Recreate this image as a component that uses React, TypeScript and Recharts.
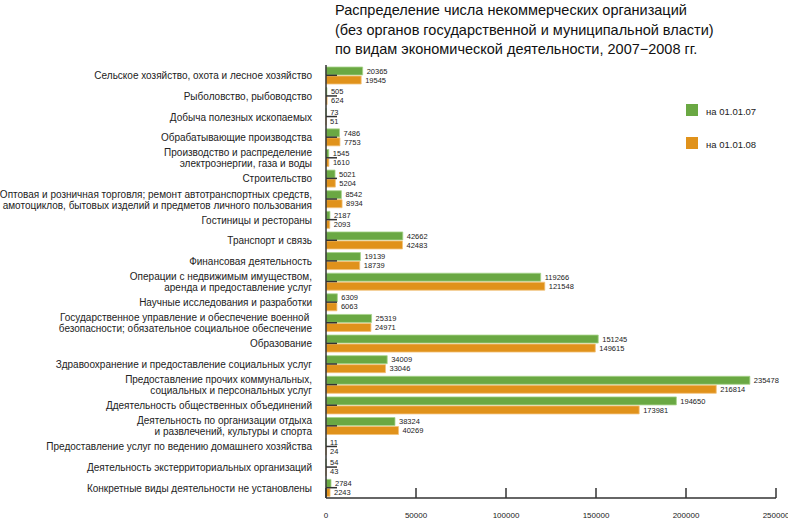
import React from 'react';
import { BarChart, Bar, XAxis, YAxis, LabelList } from 'recharts';

const categories = [
  'Сельское хозяйство, охота и лесное хозяйство',
  'Рыболовство, рыбоводство',
  'Добыча полезных ископаемых',
  'Обрабатывающие производства',
  'Производство и распределение\nэлектроэнергии, газа и воды',
  'Строительство',
  'Оптовая и розничная торговля; ремонт автотранспортных средств,\nамотоциклов, бытовых изделий и предметов личного пользования',
  'Гостиницы и рестораны',
  'Транспорт и связь',
  'Финансовая деятельность',
  'Операции с недвижимым имуществом,\nаренда и предоставление услуг',
  'Научные исследования и разработки',
  'Государственное управление и обеспечение военной \nбезопасности; обязательное социальное обеспечение',
  'Образование',
  'Здравоохранение и предоставление социальных услуг',
  'Предоставление прочих коммунальных,\nсоциальных и персональных услуг',
  'Ддеятельность общественных объединений',
  'Деятельность по организации отдыха\nи развлечений, культуры и спорта',
  'Предоставление услуг по ведению домашнего хозяйства',
  'Деятельность экстерриториальных организаций',
  'Конкретные виды деятельности не установлены',
];

const values2007 = [20365, 505, 73, 7486, 1545, 5021, 8542, 2187, 42662, 19139, 119266, 6309, 25319, 151245, 34009, 235478, 194650, 38324, 11, 54, 2784];
const values2008 = [19545, 624, 51, 7753, 1610, 5204, 8934, 2093, 42483, 18739, 121548, 6063, 24971, 149615, 33046, 216814, 173981, 40269, 24, 43, 2243];

const xTicks = [0, 50000, 100000, 150000, 200000, 250000];
const seriesNames = ['на 01.01.07', 'на 01.01.08'];
const titleLines = [
  'Распределение числа некоммерческих организаций',
  '(без органов государственной и муниципальной власти)',
  'по видам экономической деятельности, 2007−2008 гг.',
];

const data = categories.map((name, i) => ({ name, y07: values2007[i], y08: values2008[i] }));

const FONT = '"Liberation Sans", Arial, sans-serif';
const GREEN = '#6aa843';
const ORANGE = '#e0921b';
const INK = '#222';

const CategoryTick = ({ x, y, payload }: any) => {
  const lines = String(payload.value).split('\n');
  const top = y - (lines.length - 1) * 5.5;
  return (
    <g>
      <line x1={x} y1={y} x2={x + 11} y2={y} stroke="#333" strokeWidth={1.5} />
      <text textAnchor="end" fontSize={10} fontFamily={FONT} fill={INK} dominantBaseline="central">
        {lines.map((l, i) => (
          <tspan key={i} x={x - 14} y={top + i * 11}>{l}</tspan>
        ))}
      </text>
    </g>
  );
};

const ValueTick = ({ x, y, payload }: any) => (
  <g>
    <line x1={x} y1={y} x2={x} y2={y - 10} stroke="#333" strokeWidth={1.5} />
    <text x={x} y={y + 20} textAnchor="middle" fontSize={8} fontFamily={FONT} fill={INK}>{payload.value}</text>
  </g>
);

export default function App() {
  return (
    <div style={{ position: 'relative', width: 788, height: 521, background: '#fff' }}>
      <style>{`body{margin:0}`}</style>
      <BarChart
        width={788}
        height={521}
        data={data}
        layout="vertical"
        margin={{ top: 65, right: 12, left: 0, bottom: 0 }}
        barSize={8}
        barGap={1}
      >
        <XAxis
          type="number"
          domain={[0, 250000]}
          ticks={xTicks}
          height={23}
          tick={<ValueTick />}
          tickLine={false}
          tickSize={0}
          tickMargin={0}
          axisLine={{ stroke: '#333', strokeWidth: 1.5 }}
          interval={0}
        />
        <YAxis
          type="category"
          dataKey="name"
          width={326}
          tick={<CategoryTick />}
          tickLine={false}
          tickSize={0}
          tickMargin={0}
          axisLine={{ stroke: '#333', strokeWidth: 1.5 }}
          interval={0}
        />
        <Bar dataKey="y07" name={seriesNames[0]} fill={GREEN} stroke="#a7d48a" strokeWidth={0.8} isAnimationActive={false}>
          <LabelList dataKey="y07" position="right" offset={4} fontSize={7.5} fontFamily={FONT} fill={INK} />
        </Bar>
        <Bar dataKey="y08" name={seriesNames[1]} fill={ORANGE} stroke="#f2c27a" strokeWidth={0.8} isAnimationActive={false}>
          <LabelList dataKey="y08" position="right" offset={4} fontSize={7.5} fontFamily={FONT} fill={INK} />
        </Bar>
      </BarChart>
      <svg width={788} height={70} style={{ position: 'absolute', left: 0, top: 0 }}>
        {titleLines.map((t, i) => (
          <text key={i} x={335} y={15 + i * 19.5} fontSize={14.5} fontFamily={FONT} fill="#111">{t}</text>
        ))}
      </svg>
      <div style={{ position: 'absolute', left: 686, top: 104, fontFamily: FONT, fontSize: 9.5, color: INK }}>
        {[GREEN, ORANGE].map((c, i) => (
          <div key={i} style={{ display: 'flex', alignItems: 'center', height: 12, marginBottom: i === 0 ? 21 : 0 }}>
            <div style={{ width: 12, height: 12, background: c, marginRight: 8 }} />
            <span style={{ position: 'relative', top: 1 }}>{seriesNames[i]}</span>
          </div>
        ))}
      </div>
    </div>
  );
}
